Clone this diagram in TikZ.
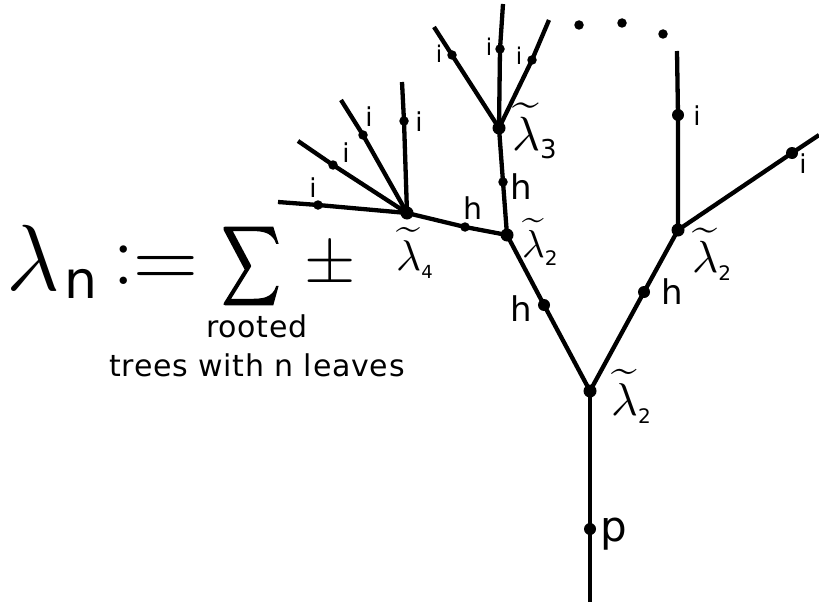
\documentclass[tikz,border=0pt]{standalone}
\usepackage{fix-cm}
\usepackage{graphicx}
\usepackage{fontspec}
\setmainfont{DejaVu Sans}
\begin{document}
\begin{tikzpicture}[x=1pt,y=-1pt,
  edge/.style={line width=4.3pt},
  vdot/.style={circle,fill,inner sep=0pt,minimum size=13pt},
  hdot/.style={circle,fill,inner sep=0pt,minimum size=12pt},
  idot/.style={circle,fill,inner sep=0pt,minimum size=9.5pt},
  edot/.style={circle,fill,inner sep=0pt,minimum size=9.5pt},
  ilab/.style={inner sep=0pt,font=\fontsize{26}{26}\selectfont},
  hlab/.style={inner sep=0pt,font=\fontsize{34}{34}\selectfont},
  lamlab/.style={inner sep=0pt,anchor=base west},
  txt/.style={inner sep=0pt,anchor=base,font=\fontsize{30}{30}\selectfont\addfontfeature{LetterSpace=2.5}}]
\useasboundingbox (0,0) rectangle (819,602);
\newcommand{\tlam}[3]{\scalebox{#3}{$\widetilde{\lambda}$}\raisebox{-8pt}{\fontsize{#2}{#2}\selectfont #1}}
% vertices
\node[vdot] (r) at (590,391) {};
\node[vdot] (vl) at (507,235) {};
\node[vdot] (vr) at (678,230) {};
\node[vdot] (v3) at (499,128) {};
\node[vdot] (v4) at (407,213) {};
% h/p dots
\node[hdot] (p) at (590,529) {};
\node[hdot] (h1) at (544,305) {};
\node[hdot] (h2) at (644,292) {};
\node[idot] (h3) at (503,182) {};
\node[idot] (h4) at (465,227) {};
% i dots
\node[idot] (a1) at (318,205) {};
\node[idot] (a2) at (333,165) {};
\node[idot] (a3) at (363,135) {};
\node[idot] (a4) at (404,121) {};
\node[idot] (b1) at (452,55) {};
\node[idot] (b2) at (500,49) {};
\node[idot] (b3) at (532,60) {};
\node[hdot] (c1) at (678,115) {};
\node[hdot] (c2) at (792,153) {};
% leaf ends
\coordinate (bot) at (590,602);
\coordinate (ea1) at (278,202);
\coordinate (ea2) at (298,141);
\coordinate (ea3) at (341,100);
\coordinate (ea4) at (402,82);
\coordinate (eb1) at (434,27);
\coordinate (eb2) at (503,4);
\coordinate (eb3) at (549,20);
\coordinate (ec1) at (677,51);
\coordinate (ec2) at (819,135);
% edges
\draw[edge] (bot) -- (p.center) -- (r.center);
\draw[edge] (r.center) -- (h1.center) -- (vl.center);
\draw[edge] (r.center) -- (h2.center) -- (vr.center);
\draw[edge] (vl.center) -- (h3.center) -- (v3.center);
\draw[edge] (vl.center) -- (h4.center) -- (v4.center);
\draw[edge] (v4.center) -- (a1.center) -- (ea1);
\draw[edge] (v4.center) -- (a2.center) -- (ea2);
\draw[edge] (v4.center) -- (a3.center) -- (ea3);
\draw[edge] (v4.center) -- (a4.center) -- (ea4);
\draw[edge] (v3.center) -- (b1.center) -- (eb1);
\draw[edge] (v3.center) -- (b2.center) -- (eb2);
\draw[edge] (v3.center) -- (b3.center) -- (eb3);
\draw[edge] (vr.center) -- (c1.center) -- (ec1);
\draw[edge] (vr.center) -- (c2.center) -- (ec2);
% ellipsis dots
\node[edot] (d1) at (579,25) {};
\node[edot] (d2) at (622,23) {};
\node[edot] (d3) at (663,34) {};
% i labels
\node[ilab] (li1) at (313,188) {i};
\node[ilab] (li2) at (346,153) {i};
\node[ilab] (li3) at (369,117) {i};
\node[ilab] (li4) at (419,122) {i};
\node[ilab,font=\fontsize{23}{23}\selectfont] (li5) at (439,54) {i};
\node[ilab,font=\fontsize{23}{23}\selectfont] (li6) at (489,47) {i};
\node[ilab,font=\fontsize{23}{23}\selectfont] (li7) at (519,56) {i};
\node[ilab] (li8) at (697,116) {i};
\node[ilab] (li9) at (803,164) {i};
% h labels
\node[hlab,font=\fontsize{30}{30}\selectfont] (lh4) at (473,208) {h};
\node[hlab] (lh3) at (521,187) {h};
\node[hlab] (lh1) at (521,309) {h};
\node[hlab] (lh2) at (672,292) {h};
\node[inner sep=0pt,anchor=base west,font=\fontsize{42}{42}\selectfont] (lp) at (600,541) {p};
% lambda labels
\node[lamlab] (lr) at (611,415) {\tlam{2}{20}{4.6}};
\node[lamlab] (ll) at (522,257) {\tlam{2}{20}{3.9}};
\node[lamlab] (lrr) at (692,272) {\tlam{2}{20}{4.5}};
\node[lamlab] (l3) at (512,150) {\tlam{3}{26}{4.8}};
\node[lamlab] (l4) at (396,270) {\tlam{4}{18}{4.3}};
% formula
\node[inner sep=0pt,anchor=base west,font=\fontsize{94}{94}\selectfont] (flam) at (6,290) {$\lambda$};
\node[inner sep=0pt,anchor=base west,font=\fontsize{52}{52}\selectfont] (fn) at (64,298) {n};
\node[inner sep=0pt,anchor=base,font=\fontsize{90}{90}\selectfont] (fcol) at (124,284) {$:$};
\node[inner sep=0pt,anchor=base west,font=\fontsize{90}{90}\selectfont] (feq) at (133,288) {$=$};
\node[inner sep=0pt] (fsum) at (251,266) {\scalebox{4.0}[5.5]{\special{pdf:literal direct 2 Tr 0.35 w}$\displaystyle\sum$\special{pdf:literal direct 0 Tr}}};
\node[inner sep=0pt,font=\fontsize{66}{66}\selectfont] (fpm) at (330,266) {$\pm$};
\node[txt] (t1) at (257,337) {rooted};
\node[txt] (t2) at (257,376) {trees with n leaves};
\end{tikzpicture}
\end{document}
